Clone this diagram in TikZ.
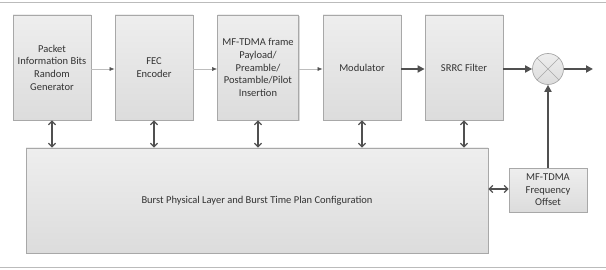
\documentclass[tikz,border=0pt]{standalone}
\usepackage{fontspec}
\setmainfont{Carlito}
\usetikzlibrary{arrows.meta,shadows}
\definecolor{boxline}{HTML}{A8A8A8}
\definecolor{boxtop}{HTML}{EEEEEE}
\definecolor{boxbot}{HTML}{DCDCDC}
\definecolor{txt}{HTML}{333333}
\definecolor{arr}{HTML}{505050}
\definecolor{thinline}{HTML}{BDBDBD}
\definecolor{frame}{HTML}{BBBBBB}
\begin{document}
\begin{tikzpicture}[x=1pt,y=-1pt,
  blk/.style={draw=boxline, line width=0.8pt, top color=boxtop, bottom color=boxbot,
    drop shadow={shadow xshift=1pt, shadow yshift=-1pt, fill=black!25, opacity=0.6},
    text=txt, align=center, inner sep=1pt,
    font=\fontsize{10.5}{12.6}\selectfont},
  thinarr/.style={draw=thinline, line width=0.6pt, -{Latex[length=5pt,width=4pt,fill=arr,color=arr]}},
  thickarr/.style={draw=arr, line width=1.8pt, -{Triangle[length=7pt,width=7pt]}},
  dbl/.style={draw=arr, line width=1.3pt, {Straight Barb[length=3.5pt,width=7pt]}-{Straight Barb[length=3.5pt,width=7pt]}}
]
\useasboundingbox (0,0) rectangle (606,270);
\draw[frame, line width=0.8pt] (0,2) -- (606,2);
\draw[frame, line width=0.8pt] (0,267) -- (606,267);

\node[blk, minimum width=78pt, minimum height=105pt] (b1) at (52,67.5) {Packet\\Information Bits\\Random\\Generator};
\node[blk, minimum width=78pt, minimum height=105pt] (b2) at (154,67.5) {FEC\\Encoder};
\node[blk, minimum width=81pt, minimum height=105pt] (b3) at (258,67.5) {MF-TDMA frame\\Payload/\\Preamble/\\Postamble/Pilot\\Insertion};
\node[blk, minimum width=78pt, minimum height=105pt] (b4) at (362,67.5) {Modulator};
\node[blk, minimum width=78pt, minimum height=105pt] (b5) at (464,67.5) {SRRC Filter};
\node[circle, draw=boxline, line width=0.7pt, top color=boxtop, bottom color=boxbot, minimum size=31pt, inner sep=0pt] (mix) at (548,69) {};
\draw[boxline, line width=0.7pt] (mix.north west) -- (mix.south east);
\draw[boxline, line width=0.7pt] (mix.north east) -- (mix.south west);
\coordinate (out) at (593,69);

\node[blk, minimum width=462pt, minimum height=105pt] (cfg) at (257,200.5) {Burst Physical Layer and Burst Time Plan Configuration};
\node[blk, minimum width=78pt, minimum height=44pt] (fo) at (548,190) {MF-TDMA\\Frequency\\Offset};

\draw[thinarr] (b1.east |- 0,69) -- (b2.west |- 0,69);
\draw[thinarr] (b2.east |- 0,69) -- (b3.west |- 0,69);
\draw[thinarr] (b3.east |- 0,69) -- (b4.west |- 0,69);
\draw[thickarr] (b4.east |- 0,69) -- (b5.west |- 0,69);
\draw[thickarr] (b5.east |- 0,69) -- (mix.west);
\draw[thickarr] (mix.east) -- (out);
\draw[thickarr] (fo.north) -- (mix.south);

\foreach \b in {b1,b2,b3,b4,b5}{
  \draw[dbl] (\b.south) -- (\b.south |- cfg.north);
}
\draw[dbl] (cfg.east |- 0,189) -- (fo.west |- 0,189);
\end{tikzpicture}
\end{document}
